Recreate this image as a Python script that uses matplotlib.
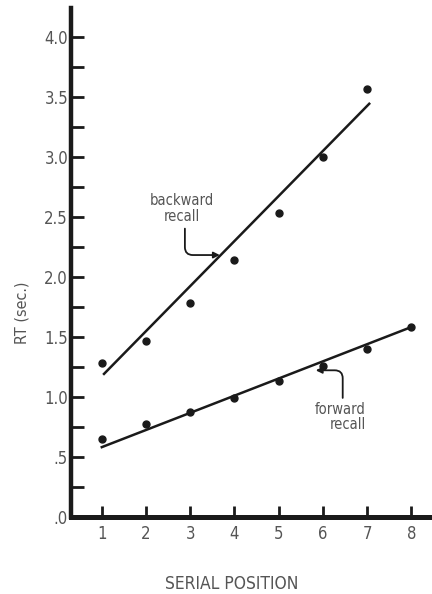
import matplotlib
matplotlib.use("Agg")
import matplotlib.pyplot as plt
import numpy as np

# Data
serial_back = [1, 2, 3, 4, 5, 6, 7]
rt_back = [1.28, 1.46, 1.78, 2.14, 2.53, 3.00, 3.56]
serial_fwd = [1, 2, 3, 4, 5, 6, 7, 8]
rt_fwd = [0.65, 0.77, 0.87, 0.99, 1.13, 1.26, 1.40, 1.58]
fit_back_x = [1.05, 7.05]
fit_back_y = [1.19, 3.44]
fit_fwd_x = [1.0, 8.0]
fit_fwd_y = [0.58, 1.58]
ytick_vals = [0.0, 0.5, 1.0, 1.5, 2.0, 2.5, 3.0, 3.5, 4.0]
ytick_labels = [".0", ".5", "1.0", "1.5", "2.0", "2.5", "3.0", "3.5", "4.0"]
xtick_vals = [1, 2, 3, 4, 5, 6, 7, 8]

fam = ['DejaVu Sans']
fkw = dict(family=fam, stretch='condensed')
gray = '#555555'
ink = '#1a1a1a'

fig = plt.figure(figsize=(4.32, 5.94), dpi=100)
ax = fig.add_axes([0.164, 0.13, 0.836, 0.857])

ax.plot(fit_back_x, fit_back_y, color=ink, lw=1.8)
ax.plot(fit_fwd_x, fit_fwd_y, color=ink, lw=1.8)
ax.plot(serial_back, rt_back, 'o', color=ink, ms=5)
ax.plot(serial_fwd, rt_fwd, 'o', color=ink, ms=5)

ax.set_xlim(0.3, 8.47)
ax.set_ylim(0, 4.24)
for s in ['top', 'right']:
    ax.spines[s].set_visible(False)
ax.spines['left'].set_linewidth(3.2)
ax.spines['bottom'].set_linewidth(3.6)
ax.spines['left'].set_color(ink)
ax.spines['bottom'].set_color(ink)

ax.set_yticks(ytick_vals)
ax.set_yticklabels(ytick_labels, fontsize=12, color=gray, **fkw)
ax.set_yticks(np.arange(0.25, 4.0, 0.5), minor=True)
ax.set_xticks(xtick_vals)
ax.set_xticklabels([str(v) for v in xtick_vals], fontsize=12, color=gray, **fkw)
ax.tick_params(axis='y', which='both', direction='in', length=9, width=2, color=ink, pad=2)
ax.tick_params(axis='x', which='both', direction='in', length=8, width=2, color=ink, pad=6)

ax.set_ylabel("RT (sec.)", fontsize=11.5, color=gray, **fkw)
ax.yaxis.set_label_coords(-0.115, 0.40)
ax.set_xlabel("SERIAL POSITION", fontsize=12.5, color=gray, va='center', **fkw)
ax.xaxis.set_label_coords(0.446, -0.132)

ax.text(2.81, 2.57, "backward\nrecall", fontsize=10.5, color=gray,
        ha='center', va='center', linespacing=1.05, **fkw)
ax.annotate("", xy=(3.67, 2.18), xytext=(2.88, 2.40),
            arrowprops=dict(arrowstyle='-|>', color=ink, lw=1.3,
                            connectionstyle='angle,angleA=90,angleB=0,rad=8',
                            mutation_scale=9, shrinkA=0, shrinkB=0))
ax.text(6.97, 0.83, "forward\nrecall", fontsize=10.5, color=gray,
        ha='right', va='center', linespacing=1.05, multialignment='right', **fkw)
ax.annotate("", xy=(5.84, 1.22), xytext=(6.45, 0.99),
            arrowprops=dict(arrowstyle='-|>', color=ink, lw=1.3,
                            connectionstyle='angle,angleA=90,angleB=0,rad=8',
                            mutation_scale=9, shrinkA=0, shrinkB=0))

fig.savefig("out.png", dpi=100)
